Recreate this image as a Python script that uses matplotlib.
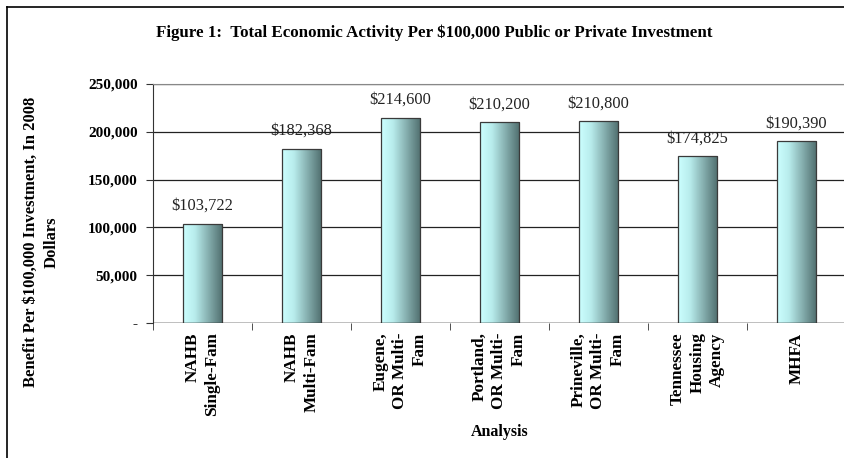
import matplotlib
matplotlib.use("Agg")
import matplotlib.pyplot as plt
import numpy as np
from matplotlib.colors import LinearSegmentedColormap
from matplotlib.lines import Line2D

categories = ["NAHB\nSingle-Fam", "NAHB\nMulti-Fam", "Eugene,\nOR Multi-\nFam",
              "Portland,\nOR Multi-\nFam", "Prineville,\nOR Multi-\nFam",
              "Tennessee\nHousing\nAgency", "MHFA"]
values = [103722, 182368, 214600, 210200, 210800, 174825, 190390]
value_labels = ["$103,722", "$182,368", "$214,600", "$210,200", "$210,800", "$174,825", "$190,390"]
yticks = [0, 50000, 100000, 150000, 200000, 250000]
ytick_labels = ["-", "50,000", "100,000", "150,000", "200,000", "250,000"]

plt.rcParams['font.family'] = ['Liberation Serif', 'DejaVu Serif']

fig = plt.figure(figsize=(8.45, 4.58), dpi=100)
ax = fig.add_axes([153 / 845, 1 - 323 / 458, 693 / 845, 239 / 458])

x = np.arange(len(values))
width = 0.4
bars = ax.bar(x, values, width=width, color='none', edgecolor='#3a3a3a', linewidth=0.9, zorder=3)

# horizontal gradient fill for each bar
cmap = LinearSegmentedColormap.from_list("teal", [(0, "#ccffff"), (0.3, "#b8ecec"), (1, "#4f6d6d")])
grad = np.linspace(0, 1, 256).reshape(1, -1)
for b in bars:
    x0, y0 = b.get_x(), b.get_y()
    im = ax.imshow(grad, cmap=cmap, aspect='auto', extent=[x0, x0 + b.get_width(), y0, y0 + b.get_height()],
                   zorder=2, interpolation='bilinear')
    im.set_clip_path(b)

for xi, v, lab in zip(x, values, value_labels):
    ax.annotate(lab, (xi, v), xytext=(0, 7), textcoords='offset points',
                ha='center', va='bottom', fontsize=11.8, color='#222222')

ax.set_xlim(-0.5, len(values) - 0.5)
ax.set_ylim(0, 250000)
ax.set_yticks(yticks)
ax.set_yticklabels(ytick_labels, fontsize=11, fontweight='bold')
ax.yaxis.grid(True, color='#222222', linewidth=0.9, zorder=0)
ax.set_axisbelow(True)

ax.set_xticks(x)
ax.set_xticklabels([])
ax.set_xticks(np.arange(len(values) + 1) - 0.5, minor=True)
ax.tick_params(axis='x', which='major', length=0)
ax.tick_params(axis='x', which='minor', length=5, color='#333333')
ax.tick_params(axis='y', length=5, color='#333333', pad=6)
for xi, lab in zip(x, categories):
    ax.text(xi, -0.04, lab, transform=ax.get_xaxis_transform(), rotation=90,
            ha='center', va='top', multialignment='right', fontsize=12.3, fontweight='bold',
            linespacing=1.3)

for s in ['right', 'bottom']:
    ax.spines[s].set_visible(False)
ax.spines['top'].set_color('#888888')
ax.spines['left'].set_color('#333333')
ax.axhline(0, color='#333333', linewidth=1.0, zorder=4)

ax.set_xlabel("Analysis", fontsize=11.5, fontweight='bold', labelpad=0)
ax.xaxis.set_label_coords(0.5, -(432 - 323) / 239)
ax.xaxis.label.set_va('center')
ax.set_ylabel("Benefit Per $100,000 Investment, In 2008\nDollars", fontsize=12,
              fontweight='bold', linespacing=1.4)
ax.yaxis.set_label_coords(-(153 - 41) / 693, (323 - 242) / 239)
ax.yaxis.label.set_va('center')

fig.text(434 / 845, 1 - 33 / 458, "Figure 1:  Total Economic Activity Per $100,000 Public or Private Investment",
         ha='center', va='center', fontsize=12.2, fontweight='bold')

# outer chart frame (left and top visible)
fig.add_artist(Line2D([7 / 845, 7 / 845], [0, 1 - 7 / 458], color='black', linewidth=1.2))
fig.add_artist(Line2D([7 / 845, 1], [1 - 7 / 458, 1 - 7 / 458], color='black', linewidth=1.2))

fig.savefig("out.png", dpi=100)
